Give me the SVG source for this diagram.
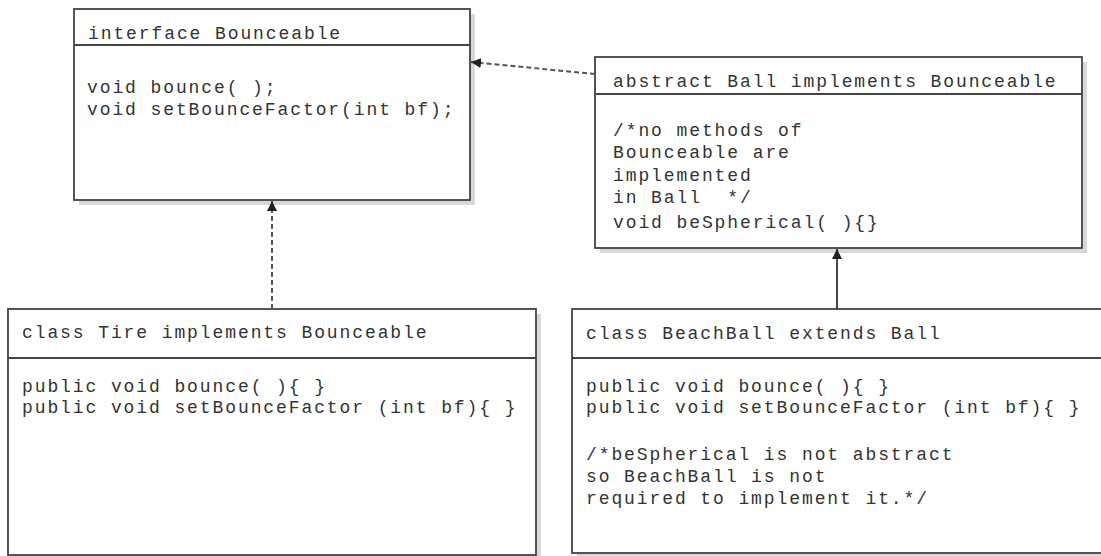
<svg xmlns="http://www.w3.org/2000/svg" width="1101" height="556" viewBox="0 0 1101 556">
  <style>
    .shadow { fill: #d8d8d8; }
    .box { fill: #ffffff; stroke: #444444; stroke-width: 1.8; }
    .div { stroke: #444444; stroke-width: 1.8; }
    .t { font-family: "Liberation Mono", "Courier New", monospace; font-size: 18px; letter-spacing: 1.9px; fill: #333333; white-space: pre; }
    .dash { fill: none; stroke: #555555; stroke-width: 2; stroke-dasharray: 5 3; }
    .solid { fill: none; stroke: #333333; stroke-width: 1.8; }
  </style>
  <defs>
    <marker id="head" viewBox="0 0 10 10" refX="10" refY="5" markerWidth="10" markerHeight="10" markerUnits="userSpaceOnUse" orient="auto">
      <path d="M0,0 L10,5 L0,10 Z" fill="#222222"/>
    </marker>
  </defs>

  <g id="bounceable">
    <rect class="shadow" x="79" y="14" width="396" height="191"/>
    <rect class="box" x="74" y="9" width="396" height="191"/>
    <line class="div" x1="74" y1="45" x2="470" y2="45"/>
    <text class="t" x="88" y="39">interface Bounceable</text>
    <text class="t" x="87" y="93">void bounce( );</text>
    <text class="t" x="87" y="115">void setBounceFactor(int bf);</text>
  </g>

  <g id="ball">
    <rect class="shadow" x="600" y="62" width="487" height="191"/>
    <rect class="box" x="595" y="57" width="487" height="191"/>
    <line class="div" x1="595" y1="94" x2="1082" y2="94"/>
    <text class="t" x="613" y="87">abstract Ball implements Bounceable</text>
    <text class="t" x="613" y="136">/*no methods of</text>
    <text class="t" x="613" y="158">Bounceable are</text>
    <text class="t" x="613" y="181">implemented</text>
    <text class="t" x="613" y="203" xml:space="preserve">in Ball  */</text>
    <text class="t" x="613" y="228">void beSpherical( ){}</text>
  </g>

  <g id="tire">
    <rect class="shadow" x="13" y="314" width="528" height="246"/>
    <rect class="box" x="8" y="309" width="528" height="246"/>
    <line class="div" x1="8" y1="358" x2="536" y2="358"/>
    <text class="t" x="22" y="338">class Tire implements Bounceable</text>
    <text class="t" x="22" y="392">public void bounce( ){ }</text>
    <text class="t" x="22" y="413">public void setBounceFactor (int bf){ }</text>
  </g>

  <g id="beachball">
    <rect class="shadow" x="577" y="314" width="540" height="244"/>
    <rect class="box" x="572" y="309" width="540" height="244"/>
    <line class="div" x1="572" y1="358" x2="1112" y2="358"/>
    <text class="t" x="586" y="339">class BeachBall extends Ball</text>
    <text class="t" x="586" y="392">public void bounce( ){ }</text>
    <text class="t" x="586" y="413">public void setBounceFactor (int bf){ }</text>
    <text class="t" x="586" y="460">/*beSpherical is not abstract</text>
    <text class="t" x="586" y="482">so BeachBall is not</text>
    <text class="t" x="586" y="504">required to implement it.*/</text>
  </g>

  <g id="connectors">
    <line class="dash" x1="595" y1="74" x2="471" y2="62" marker-end="url(#head)"/>
    <line class="dash" x1="272" y1="309" x2="272" y2="201" marker-end="url(#head)"/>
    <line class="solid" x1="837" y1="309" x2="837" y2="249" marker-end="url(#head)"/>
  </g>
</svg>
